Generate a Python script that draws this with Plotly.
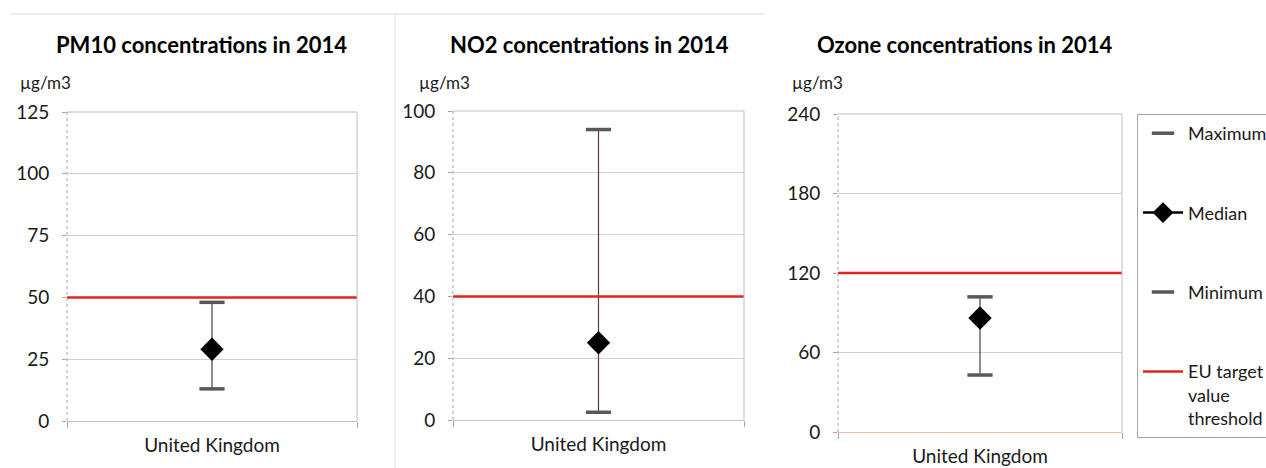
import plotly.graph_objects as go

# ---------------- data ----------------
country = ["United Kingdom"]
pollutants = ["PM10", "NO2", "Ozone"]
titles = ["PM10 concentrations in 2014", "NO2 concentrations in 2014", "Ozone concentrations in 2014"]
unit = "µg/m3"
maximum = [48, 94, 102]
median = [29, 25, 86]
minimum = [13, 2.5, 43]
threshold = [50, 40, 120]
y_max = [125, 100, 240]
y_step = [25, 20, 60]
legend_names = ["Maximum", "Median", "Minimum", "EU target<br>value<br>threshold"]

# ---------------- layout helpers ----------------
W, H = 1266, 468
FONT = "Lato"
# plot areas in pixels: (left, right, top, bottom)
boxes = [(67, 357, 112, 421), (453, 744, 111, 420), (838, 1122, 114, 432)]
grid_colors = ["#d8ccc4", "#cfd2d6", "#cbd3dc"]
zero_colors = ["#c8c0bb", "#c8c4c4", "#e9b9aa"]
title_cx = [201, 589, 965]
unit_x = [18, 417, 790]

fig = go.Figure()

CAP = "#595959"
STEM = "#5b3a32"
RED = "#e0261c"

for i in range(3):
    sfx = "" if i == 0 else str(i + 1)
    xa, ya = "x" + sfx, "y" + sfx
    show = i == 2
    # stem between min and max
    fig.add_trace(go.Scatter(x=country * 2, y=[minimum[i], maximum[i]], mode="lines",
                             line=dict(color=STEM, width=1.2), xaxis=xa, yaxis=ya,
                             showlegend=False, hoverinfo="skip"))
    fig.add_trace(go.Scatter(x=country, y=[maximum[i]], mode="markers", name=legend_names[0],
                             legendgroup="max", showlegend=show,
                             marker=dict(symbol="line-ew", size=18, line=dict(color=CAP, width=3.5)),
                             xaxis=xa, yaxis=ya))
    fig.add_trace(go.Scatter(x=country, y=[median[i]], mode="lines+markers", name=legend_names[1],
                             legendgroup="med", showlegend=show,
                             line=dict(color="black", width=2.5),
                             marker=dict(symbol="diamond", size=18, color="black"),
                             xaxis=xa, yaxis=ya))
    fig.add_trace(go.Scatter(x=country, y=[minimum[i]], mode="markers", name=legend_names[2],
                             legendgroup="min", showlegend=show,
                             marker=dict(symbol="line-ew", size=18, line=dict(color=CAP, width=3.5)),
                             xaxis=xa, yaxis=ya))
    if show:
        fig.add_trace(go.Scatter(x=[None], y=[None], mode="lines", name=legend_names[3],
                                 legendgroup="eu", line=dict(color=RED, width=2.5),
                                 xaxis=xa, yaxis=ya))

    l, r, t, b = boxes[i]
    dom_x = [l / W, r / W]
    dom_y = [1 - b / H, 1 - t / H]
    fig.update_layout(**{
        "xaxis" + sfx: dict(domain=dom_x, type="category", range=[-0.5, 0.5],
                            tickson="boundaries", ticks="outside", ticklen=6, tickcolor="#a6a6a6",
                            showline=True, linecolor=zero_colors[i], linewidth=1,
                            showgrid=False, zeroline=False, ticklabelstandoff=7,
                            tickfont=dict(family=FONT, size=19, color="#1a1a1a"),
                            anchor=ya, fixedrange=True),
        "yaxis" + sfx: dict(domain=dom_y, range=[0, y_max[i]], dtick=y_step[i], tick0=0,
                            ticks="outside", ticklen=4, tickcolor="#a6a6a6",
                            showgrid=True, gridcolor=grid_colors[i], gridwidth=1,
                            zeroline=False, showline=False, ticklabelstandoff=9,
                            tickfont=dict(family=FONT, size=19, color="#1a1a1a"),
                            anchor=xa, fixedrange=True),
    })
    # threshold line
    fig.add_shape(type="line", xref="paper", yref=ya, x0=l / W, x1=r / W,
                  y0=threshold[i], y1=threshold[i], line=dict(color=RED, width=2.5))
    # borders
    fig.add_shape(type="line", xref="paper", yref="paper", x0=l / W, x1=r / W, y0=dom_y[1], y1=dom_y[1],
                  line=dict(color="#bfbfbf", width=1))
    fig.add_shape(type="line", xref="paper", yref="paper", x0=r / W, x1=r / W, y0=dom_y[0], y1=dom_y[1],
                  line=dict(color="#bfbfbf", width=1))
    fig.add_shape(type="line", xref="paper", yref="paper", x0=l / W, x1=l / W, y0=dom_y[0], y1=dom_y[1],
                  line=dict(color="#a6a6a6", width=1, dash="dot"))
    # title + unit
    fig.add_annotation(text="<b>" + titles[i] + "</b>", xref="paper", yref="paper",
                       x=title_cx[i] / W, y=1 - 44 / H, xanchor="center", yanchor="middle",
                       showarrow=False, font=dict(family=FONT, size=22, color="black"))
    fig.add_annotation(text=unit, xref="paper", yref="paper",
                       x=unit_x[i] / W, y=1 - 82 / H, xanchor="left", yanchor="middle",
                       showarrow=False, font=dict(family=FONT, size=17, color="#1a1a1a"))

# page decorations (separators of the original screenshot)
fig.add_shape(type="line", xref="paper", yref="paper", x0=10 / W, x1=765 / W, y0=1 - 14 / H, y1=1 - 14 / H,
              line=dict(color="#e3e7ec", width=1.5))
fig.add_shape(type="line", xref="paper", yref="paper", x0=395 / W, x1=395 / W, y0=0, y1=1 - 14 / H,
              line=dict(color="#ebebeb", width=1.5))

fig.update_layout(
    width=W, height=H, margin=dict(l=0, r=0, t=0, b=0, autoexpand=False),
    paper_bgcolor="white", plot_bgcolor="white",
    font=dict(family=FONT, size=18, color="#1a1a1a"),
    showlegend=True,
    legend=dict(xref="container", yref="container",
                x=1137 / W, y=1 - 114 / H, xanchor="left", yanchor="top",
                bordercolor="#a6a6a6", borderwidth=1, bgcolor="white",
                font=dict(family=FONT, size=18, color="#1a1a1a"),
                tracegroupgap=53, valign="top", itemwidth=40, maxheight=420),
)

fig.write_html("out.html", config={"displayModeBar": False},
               post_script="document.body.style.margin='0px';")
